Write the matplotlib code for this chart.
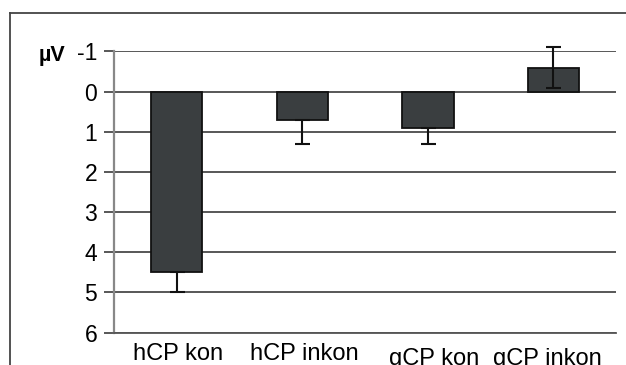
import numpy as np
import matplotlib.pyplot as plt
from matplotlib.lines import Line2D

plt.rcParams['font.family'] = ['Liberation Sans', 'DejaVu Sans']

# mean amplitudes (positive is drawn downwards)
conditions = ['hCP kon', 'hCP inkon', 'gCP kon', 'gCP inkon']
amplitude = [4.5, 0.7, 0.9, -0.6]
err_minus = [0.0, 0.0, 0.0, 0.5]
err_plus = [0.5, 0.6, 0.4, 0.5]
y_ticks = [-1, 0, 1, 2, 3, 4, 5, 6]

fig = plt.figure(figsize=(6.26, 3.65), dpi=100)
ax = fig.add_axes([0.1821, 0.089, 0.802, 0.770])

x = np.arange(len(conditions))
ax.bar(x, amplitude, width=0.41, color='#3a3e40', edgecolor='#111111',
       linewidth=1.3, zorder=3)
eb = ax.errorbar(x, amplitude, yerr=[err_minus, err_plus], fmt='none',
                 ecolor='#111111', elinewidth=1.5, capsize=5.4, capthick=1.5,
                 zorder=4)
for art in eb.lines[1] + eb.lines[2]:
    art.set_clip_on(False)

ax.set_xlim(-0.5, len(conditions) - 0.5)
ax.set_ylim(6, -1)
ax.set_yticks(y_ticks)
ax.set_yticklabels([str(v) for v in y_ticks], fontsize=16.5)
ax.yaxis.grid(True, color='#2a2a2a', linewidth=1.1, zorder=0)
ax.tick_params(axis='y', length=7, width=1.1, color='#2a2a2a', pad=5)
ax.set_xticks([])

for side in ['top', 'right']:
    ax.spines[side].set_visible(False)
ax.spines['left'].set_color('#888888')
ax.spines['left'].set_linewidth(1.6)
ax.spines['bottom'].set_color('#555555')
ax.spines['bottom'].set_linewidth(1.3)

# category labels, nudged a little like the original sheet
label_dx = [1, 2, 6, -6]
label_dy = [-10, -10, -15, -15]
for i, name in enumerate(conditions):
    ax.annotate(name, xy=(i, 0), xycoords=('data', 'axes fraction'),
                xytext=(label_dx[i], label_dy[i]), textcoords='offset pixels',
                ha='center', va='top', fontsize=17)

ax.text(-0.151, 0.985, 'µV', transform=ax.transAxes, fontsize=15.5,
        fontweight='bold', ha='left', va='center')

# outer chart frame (left and top edges only)
fig.add_artist(Line2D([10 / 626, 10 / 626], [0, 1 - 13 / 365],
                      color='#444444', linewidth=1.3))
fig.add_artist(Line2D([10 / 626, 1], [1 - 13 / 365, 1 - 13 / 365],
                      color='#444444', linewidth=1.3))

fig.savefig('out.png', dpi=100)
